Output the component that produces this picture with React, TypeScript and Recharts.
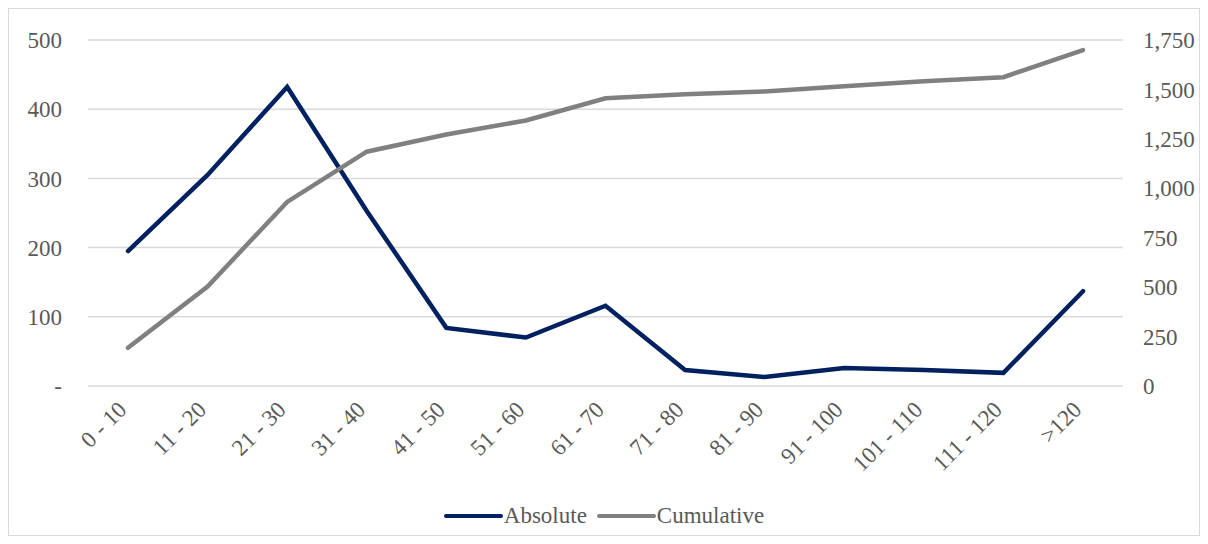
import { LineChart, Line, XAxis, YAxis, CartesianGrid, Legend } from "recharts";

const categories = [
  "0 - 10", "11 - 20", "21 - 30", "31 - 40", "41 - 50", "51 - 60", "61 - 70",
  "71 - 80", "81 - 90", "91 - 100", "101 - 110", "111 - 120", ">120",
];
const absolute = [195, 305, 432, 253, 84, 70, 116, 23, 13, 26, 23, 19, 137];
const cumulative = [193, 503, 931, 1185, 1272, 1343, 1455, 1475, 1490, 1516, 1541, 1562, 1699];
const leftTicks = [0, 100, 200, 300, 400, 500];
const rightTicks = [0, 250, 500, 750, 1000, 1250, 1500, 1750];

const data = categories.map((name, i) => ({
  name,
  Absolute: absolute[i],
  Cumulative: cumulative[i],
}));

const FONT = "Times New Roman, Liberation Serif, serif";
const TEXT = "#595959";
const NAVY = "#002060";
const GREY = "#808080";

function XTick(props: any) {
  const { x, y, payload } = props;
  return (
    <g transform={`translate(${x},${y + 17})`}>
      <text
        x={0}
        y={0}
        textAnchor="end"
        transform="rotate(-45)"
        fill={TEXT}
        fontSize={23}
        fontFamily={FONT}
      >
        {payload.value}
      </text>
    </g>
  );
}

function LegendBox() {
  const items = [
    { label: "Absolute", color: NAVY },
    { label: "Cumulative", color: GREY },
  ];
  return (
    <div style={{ display: "flex", justifyContent: "center", alignItems: "center", height: 30 }}>
      {items.map((it, i) => (
        <div key={it.label} style={{ display: "flex", alignItems: "center", marginLeft: i ? 10 : 0 }}>
          <svg width={60} height={8}>
            <line x1={2} y1={4} x2={57} y2={4} stroke={it.color} strokeWidth={4} strokeLinecap="round" />
          </svg>
          <span style={{ fontFamily: FONT, fontSize: 23, color: TEXT, lineHeight: "30px" }}>{it.label}</span>
        </div>
      ))}
    </div>
  );
}

export default function App() {
  return (
    <div style={{ width: 1190, height: 526, border: "1px solid #d9d9d9", background: "#fff" }}>
      <LineChart
        width={1190}
        height={526}
        data={data}
        margin={{ top: 31, right: 0, left: 0, bottom: 4 }}
      >
        <CartesianGrid yAxisId="left" vertical={false} stroke="#d9d9d9" strokeWidth={1.5} />
        <XAxis
          dataKey="name"
          axisLine={false}
          tickLine={false}
          interval={0}
          height={115}
          padding={{ left: 40, right: 40 }}
          tick={<XTick />}
        />
        <YAxis
          yAxisId="left"
          width={79}
          domain={[0, 500]}
          ticks={leftTicks}
          axisLine={false}
          tickLine={false}
          tickMargin={20}
          tickFormatter={(v: number) => (v === 0 ? "-" : String(v))}
          tick={{ fill: TEXT, fontSize: 23, fontFamily: FONT }}
        />
        <YAxis
          yAxisId="right"
          orientation="right"
          width={76}
          domain={[0, 1750]}
          ticks={rightTicks}
          axisLine={false}
          tickLine={false}
          tickMargin={14}
          tickFormatter={(v: number) => v.toLocaleString("en-US")}
          tick={{ fill: TEXT, fontSize: 23, fontFamily: FONT, textAnchor: "start" }}
        />
        <Legend verticalAlign="bottom" height={30} content={<LegendBox />} />
        <Line
          yAxisId="left"
          dataKey="Absolute"
          stroke={NAVY}
          strokeWidth={4.5}
          strokeLinecap="round"
          dot={false}
          isAnimationActive={false}
        />
        <Line
          yAxisId="right"
          dataKey="Cumulative"
          stroke={GREY}
          strokeWidth={4.5}
          strokeLinecap="round"
          dot={false}
          isAnimationActive={false}
        />
      </LineChart>
    </div>
  );
}
